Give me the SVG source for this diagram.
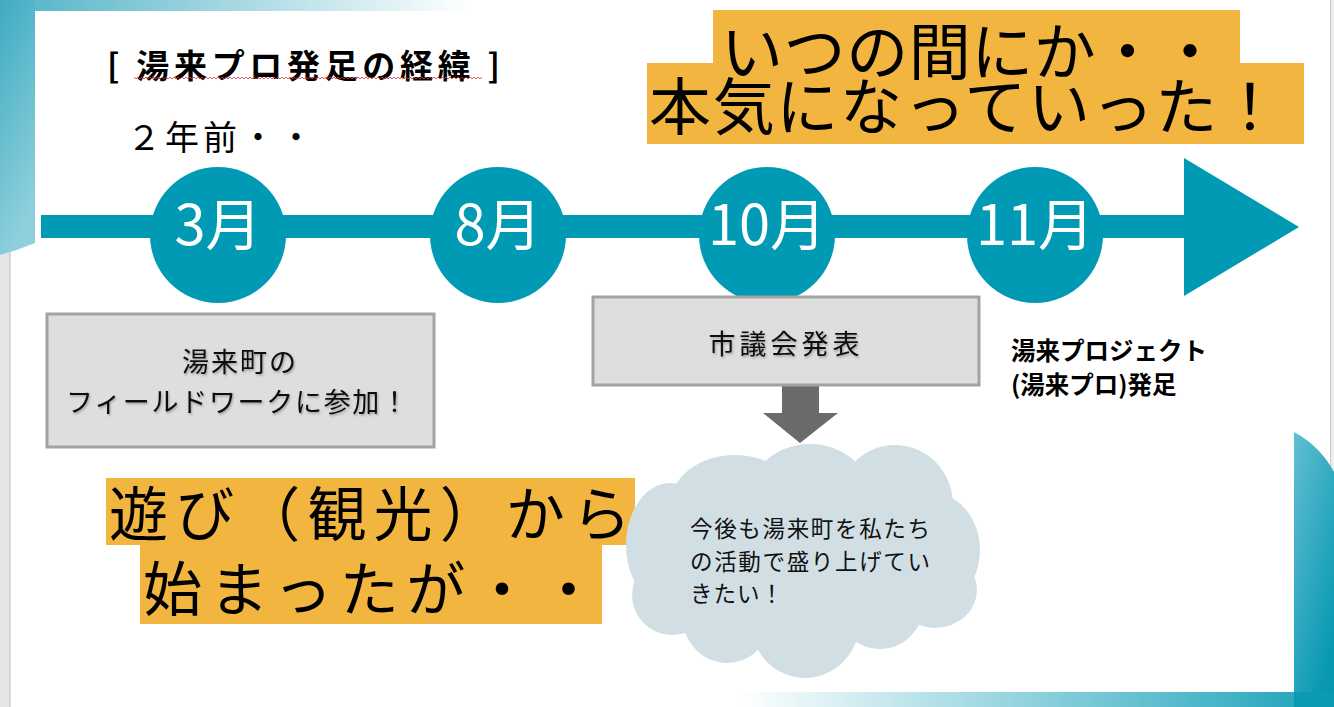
<svg xmlns="http://www.w3.org/2000/svg" width="1334" height="707" viewBox="0 0 1334 707">
<defs>
<style>
.jp{font-family:"Noto Sans CJK JP","Noto Sans",sans-serif;}
.big{fill:#000;}
.orange{fill:#F2B540;}
.teal{fill:#009AB4;}
.month{font-size:56px;fill:#fff;text-anchor:middle;}
.box{fill:#DEDEDE;stroke:#A3A3A3;stroke-width:3;}
.boxtxt{font-size:27px;fill:#111;text-anchor:middle;}
.cloud{fill:#D1DFE5;}
</style>
<linearGradient id="gTopBand" x1="0" y1="0" x2="1" y2="0">
<stop offset="0" stop-color="#4FB2C6"/>
<stop offset="1" stop-color="#FFFFFF"/>
</linearGradient>
<linearGradient id="gLeft" x1="0" y1="0" x2="0.3" y2="1">
<stop offset="0" stop-color="#3FABC1"/>
<stop offset="1" stop-color="#8ED0DC"/>
</linearGradient>
<linearGradient id="gBottomBand" x1="0" y1="0" x2="1" y2="0">
<stop offset="0" stop-color="#FFFFFF"/>
<stop offset="1" stop-color="#1AA2BA"/>
</linearGradient>
<linearGradient id="gRight" x1="0" y1="0" x2="0.6" y2="1">
<stop offset="0" stop-color="#62BFD2"/>
<stop offset="1" stop-color="#0898B2"/>
</linearGradient>
<pattern id="wavy" width="4" height="4" patternUnits="userSpaceOnUse">
<path d="M0,3 L2,1 L4,3" fill="none" stroke="#E03030" stroke-width="0.8"/>
</pattern>
<filter id="sh" x="-10%" y="-10%" width="120%" height="130%">
<feDropShadow dx="1" dy="1.5" stdDeviation="1" flood-color="#000" flood-opacity="0.3"/>
</filter>
</defs>

<!-- background -->
<rect x="0" y="0" width="1334" height="707" fill="#FFFFFF"/>
<rect x="0" y="0" width="10" height="707" fill="#E6E6E6"/>
<line x1="10" y1="0" x2="10" y2="707" stroke="#BDBDBD" stroke-width="1"/>
<rect x="1331" y="0" width="3" height="707" fill="#EDEDED"/>
<line x1="1330.5" y1="0" x2="1330.5" y2="707" stroke="#C8C8C8" stroke-width="1"/>
<rect x="0" y="0" width="470" height="11" fill="url(#gTopBand)"/>
<path d="M0,0 L35,0 L35,243 Q18,250 0,255 Z" fill="url(#gLeft)"/>
<rect x="740" y="692" width="594" height="15" fill="url(#gBottomBand)"/>
<path d="M1294,432 Q1320,446 1334,472 L1334,707 L1294,707 Z" fill="url(#gRight)"/>
<rect x="1294" y="692" width="40" height="15" fill="#0A9AB3"/>

<!-- title -->
<g id="title">
<text class="jp" x="107" y="78" font-size="33" font-weight="bold" textLength="393" lengthAdjust="spacing">[ 湯来プロ発足の経緯 ]</text>
<rect x="134" y="76" width="348" height="4" fill="url(#wavy)"/>
</g>
<g id="twoyears">
<text class="jp" x="127" y="150" font-size="34" letter-spacing="4">２年前・・</text>
</g>

<!-- timeline -->
<g id="connectors">
<rect class="teal" x="41" y="215" width="1145" height="23"/>
<polygon class="teal" points="1184,158 1299,227 1184,296"/>
<g id="down-arrow">
<polygon points="782,385 819,385 819,413 838,413 800,443 763,413 782,413" fill="#6B6B6B"/>
</g>
</g>

<g id="m3"><circle class="teal" cx="218" cy="235" r="68"/><text class="jp month" x="218" y="245">3月</text></g>
<g id="m8"><circle class="teal" cx="498" cy="235" r="68"/><text class="jp month" x="498" y="245">8月</text></g>
<g id="m10"><circle class="teal" cx="767" cy="235" r="68"/><text class="jp month" x="767" y="245">10月</text></g>
<g id="m11"><circle class="teal" cx="1035" cy="235" r="68"/><text class="jp month" x="1035" y="245">11月</text></g>

<!-- orange headline top right -->
<g id="headline-top">
<rect class="orange" x="713" y="10" width="527" height="54"/>
<rect class="orange" x="647" y="63" width="657" height="81"/>
<text class="jp big" x="721" y="75" font-size="62" textLength="500" lengthAdjust="spacing">いつの間にか・・</text>
<text class="jp big" x="649" y="130" font-size="62" textLength="632" lengthAdjust="spacing">本気になっていった！</text>
</g>

<!-- box 1 -->
<g id="box-fieldwork">
<rect class="box" x="47" y="314" width="387" height="133"/>
<g filter="url(#sh)">
<text class="jp boxtxt" x="240" y="372" font-size="28" letter-spacing="2">湯来町の</text>
<text class="jp boxtxt" x="237" y="412" font-size="28" textLength="342" lengthAdjust="spacing">フィールドワークに参加！</text>
</g>
</g>

<!-- box 2 -->
<g id="box-council">
<rect class="box" x="593" y="297" width="386" height="88"/>
<text class="jp boxtxt" x="786" y="354" font-size="28" letter-spacing="4" filter="url(#sh)">市議会発表</text>
</g>

<!-- project label -->
<g id="project">
<text class="jp" x="1011" y="360" font-size="24.5" font-weight="bold">湯来プロジェクト</text>
<text class="jp" x="1011" y="394" font-size="24.5" font-weight="bold">(湯来プロ)発足</text>
</g>

<!-- orange headline bottom left -->
<g id="headline-bottom">
<rect class="orange" x="106" y="478" width="529" height="67"/>
<rect class="orange" x="140" y="544" width="462" height="80"/>
<text class="jp big" x="109" y="536" font-size="59" textLength="522" lengthAdjust="spacing">遊び（観光）から</text>
<text class="jp big" x="143" y="611" font-size="59" textLength="455" lengthAdjust="spacing">始まったが・・</text>
</g>

<!-- cloud -->
<g id="cloud">
<ellipse class="cloud" cx="735" cy="505" rx="65" ry="50"/>
<ellipse class="cloud" cx="810" cy="500" rx="62" ry="56"/>
<ellipse class="cloud" cx="895" cy="505" rx="58" ry="60"/>
<ellipse class="cloud" cx="930" cy="550" rx="50" ry="58"/>
<ellipse class="cloud" cx="670" cy="545" rx="44" ry="62"/>
<ellipse class="cloud" cx="672" cy="595" rx="40" ry="40"/>
<ellipse class="cloud" cx="727" cy="615" rx="45" ry="48"/>
<ellipse class="cloud" cx="805" cy="620" rx="55" ry="58"/>
<ellipse class="cloud" cx="880" cy="600" rx="45" ry="49"/>
<ellipse class="cloud" cx="935" cy="590" rx="42" ry="38"/>
<ellipse class="cloud" cx="805" cy="560" rx="150" ry="85"/>
<text class="jp" x="690" y="537" font-size="22.5" fill="#111" textLength="240" lengthAdjust="spacing">今後も湯来町を私たち</text>
<text class="jp" x="690" y="570" font-size="22.5" fill="#111" textLength="240" lengthAdjust="spacing">の活動で盛り上げてい</text>
<text class="jp" x="690" y="602" font-size="22.5" fill="#111" letter-spacing="1">きたい！</text>
</g>
</svg>
